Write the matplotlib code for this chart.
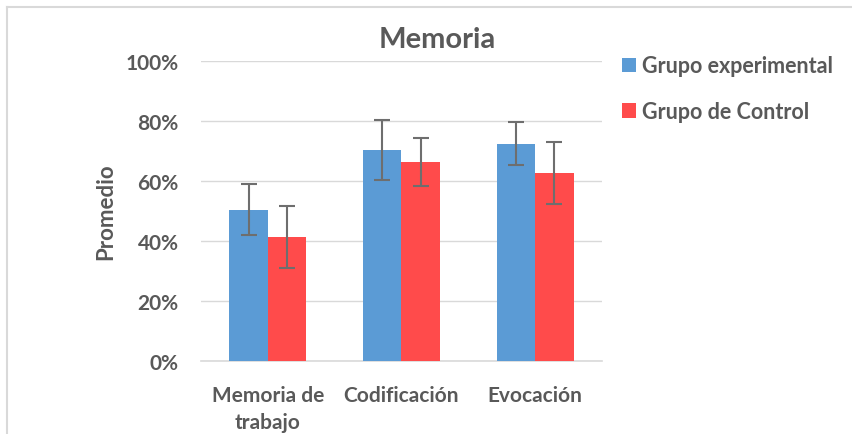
import matplotlib
matplotlib.use("Agg")
import matplotlib.pyplot as plt
import numpy as np
from matplotlib.lines import Line2D

categories = ["Memoria de\ntrabajo", "Codificación", "Evocación"]
series_names = ["Grupo experimental", "Grupo de Control"]
exp_vals = [50.4, 70.4, 72.5]
exp_err = [8.5, 10.0, 7.3]
ctl_vals = [41.4, 66.2, 62.7]
ctl_err = [10.3, 8.0, 10.4]
yticks = [0, 20, 40, 60, 80, 100]
ytick_labels = ["0%", "20%", "40%", "60%", "80%", "100%"]

colors = ["#5B9BD5", "#FF4B4B"]
txt = "#595959"
font = ["Lato", "DejaVu Sans"]
plt.rcParams["font.family"] = font

fig = plt.figure(figsize=(8.53, 4.35), dpi=100)
ax = fig.add_axes([201/853, 73/435, 401/853, 300/435])

x = np.arange(len(categories))
w = 0.287
ek = dict(ecolor="#6E6E6E", elinewidth=1.5, capsize=6, capthick=1.5)
ax.bar(x - w/2, exp_vals, w, color=colors[0], yerr=exp_err, error_kw=ek,
       label=series_names[0], zorder=3)
ax.bar(x + w/2, ctl_vals, w, color=colors[1], yerr=ctl_err, error_kw=ek,
       label=series_names[1], zorder=3)

ax.set_xlim(-0.5, 2.5)
ax.set_ylim(0, 100)
ax.set_yticks(yticks)
ax.set_yticklabels(ytick_labels)
ax.set_xticks(x)
ax.set_xticklabels(categories, linespacing=1.45, va="top")
for lab in ax.get_yticklabels() + ax.get_xticklabels():
    lab.set_fontsize(15)
    lab.set_fontweight("bold")
    lab.set_color(txt)
ax.tick_params(axis="y", length=0, pad=16)
ax.tick_params(axis="x", length=0, pad=17)
ax.grid(axis="y", color="#D9D9D9", linewidth=1, zorder=0)
for s in ["top", "right", "left"]:
    ax.spines[s].set_visible(False)
ax.spines["bottom"].set_color("#D9D9D9")
ax.spines["bottom"].set_linewidth(1.2)

ax.set_ylabel("Promedio", fontsize=16, fontweight="bold", color=txt, labelpad=7)
fig.text(437/853, 1 - 40/435, "Memoria", ha="center", va="center",
         fontsize=21, fontweight="bold", color=txt)

leg = ax.legend(loc="upper left", bbox_to_anchor=(603/853, 1 - 37/435),
                bbox_transform=fig.transFigure, frameon=False,
                prop={"family": font, "weight": "bold", "size": 15.5},
                handlelength=0.65, handleheight=0.65, handletextpad=0.25,
                labelspacing=1.15, labelcolor=txt)

# chart border (top and left edges visible)
fig.add_artist(Line2D([7/853, 7/853], [0, 1 - 8/435], transform=fig.transFigure,
                      color="#D9D9D9", linewidth=1.5))
fig.add_artist(Line2D([7/853, 1], [1 - 8/435, 1 - 8/435], transform=fig.transFigure,
                      color="#D9D9D9", linewidth=1.5))

fig.savefig("out.png", dpi=100)
